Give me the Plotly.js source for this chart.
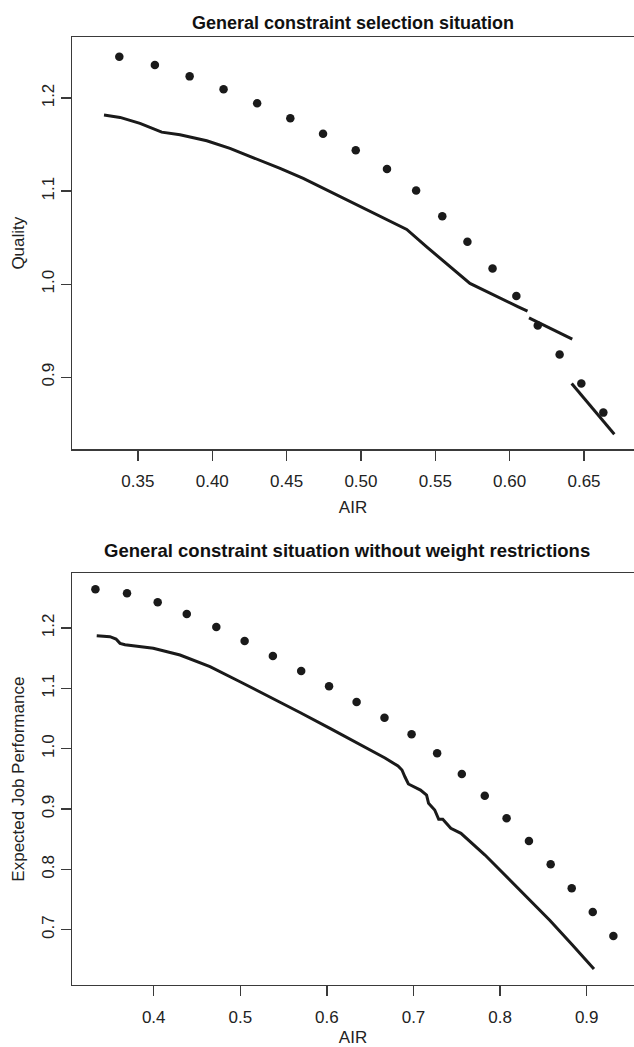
<!DOCTYPE html>
<html>
<head>
<meta charset="utf-8">
<script src="https://cdn.plot.ly/plotly-3.0.1.min.js"></script>
<style>
  html, body { margin: 0; padding: 0; background: #fff; overflow: hidden; }
  #chart { width: 634px; height: 1047px; }
</style>
</head>
<body>
<div id="chart"></div>
<script>
// Panel 1: general constraint selection situation
const topPointAIR = [0.3375, 0.3614, 0.3848, 0.4076, 0.4302, 0.4525, 0.4745, 0.4965, 0.5175,
                     0.5371, 0.5547, 0.5716, 0.5885, 0.6045, 0.6189, 0.6336, 0.6482, 0.6630];
const topPointQuality = [1.2444, 1.2355, 1.2233, 1.2094, 1.1943, 1.1782, 1.1616, 1.1438, 1.1237,
                         1.1007, 1.0731, 1.0455, 1.0169, 0.9874, 0.9556, 0.9244, 0.8932, 0.8620];

// Frontier pieces (three separate segments)
const topSegA_AIR = [0.3272, 0.3380, 0.3514, 0.3660, 0.3783, 0.3963, 0.4119, 0.4276, 0.4456,
                     0.4612, 0.4837, 0.5061, 0.5308, 0.5442, 0.5599, 0.5733, 0.6058, 0.6120];
const topSegA_Q   = [1.1817, 1.1792, 1.1728, 1.1634, 1.1605, 1.1541, 1.1459, 1.1362, 1.1244,
                     1.1137, 1.0957, 1.0777, 1.0588, 1.0401, 1.0186, 1.0008, 0.9756, 0.9710];
const topSegB_AIR = [0.6130, 0.6421];
const topSegB_Q   = [0.9638, 0.9409];
const topSegC_AIR = [0.6417, 0.6704];
const topSegC_Q   = [0.8932, 0.8387];

// Panel 2: general constraint situation without weight restrictions
const botPointAIR = [0.3327, 0.3692, 0.4046, 0.4382, 0.4723, 0.5050, 0.5376, 0.5703, 0.6025, 0.6343,
                     0.6665, 0.6978, 0.7273, 0.7558, 0.7823, 0.8075, 0.8333, 0.8584, 0.8827, 0.9070, 0.9308];
const botPointPerf = [1.2641, 1.2575, 1.2426, 1.2232, 1.2017, 1.1785, 1.1536, 1.1287, 1.1034, 1.0774,
                      1.0513, 1.0238, 0.9923, 0.9580, 0.9221, 0.8846, 0.8470, 0.8084, 0.7686, 0.7293, 0.6896];

const botLineAIR = [0.3342, 0.3495, 0.3565, 0.3611, 0.3669, 0.3995, 0.4304, 0.4650, 0.4997, 0.5343,
                    0.5689, 0.6036, 0.6383, 0.6671, 0.6821, 0.6867, 0.6902, 0.6941, 0.7081, 0.7151,
                    0.7174, 0.7245, 0.7291, 0.7338, 0.7431, 0.7548, 0.7826, 0.8114, 0.8345, 0.8576,
                    0.8830, 0.9084];
const botLinePerf = [1.1872, 1.1856, 1.1818, 1.1746, 1.1723, 1.1664, 1.1553, 1.1359, 1.1110, 1.0861,
                     1.0600, 1.0338, 1.0073, 0.9846, 0.9713, 0.9647, 0.9531, 0.9415, 0.9315, 0.9232,
                     0.9095, 0.8984, 0.8830, 0.8830, 0.8680, 0.8598, 0.8238, 0.7824, 0.7501, 0.7153,
                     0.6755, 0.6349];

const topTicks = [0.35, 0.40, 0.45, 0.50, 0.55, 0.60, 0.65];
const topTickText = ['0.35', '0.40', '0.45', '0.50', '0.55', '0.60', '0.65'];
const botTicks = [0.4, 0.5, 0.6, 0.7, 0.8, 0.9];
const botTickText = ['0.4', '0.5', '0.6', '0.7', '0.8', '0.9'];
const topYTicks = [0.9, 1.0, 1.1, 1.2];
const topYText = ['0.9', '1.0', '1.1', '1.2'];
const botYTicks = [0.7, 0.8, 0.9, 1.0, 1.1, 1.2];
const botYText = ['0.7', '0.8', '0.9', '1.0', '1.1', '1.2'];

const ink = '#1a1a1a';
const axisInk = '#3a3a3a';
const fontFamily = 'Liberation Sans, Arial, Helvetica, sans-serif';

// join segments with gaps so they are drawn as separate pieces
const topLineAIR = topSegA_AIR.concat([null], topSegB_AIR, [null], topSegC_AIR);
const topLineQ = topSegA_Q.concat([null], topSegB_Q, [null], topSegC_Q);

const traces = [
  { x: topLineAIR, y: topLineQ, type: 'scatter', mode: 'lines', connectgaps: false,
    line: { color: ink, width: 3 }, xaxis: 'x', yaxis: 'y', hoverinfo: 'skip' },
  { x: topPointAIR, y: topPointQuality, type: 'scatter', mode: 'markers',
    marker: { color: ink, size: 8.5 }, xaxis: 'x', yaxis: 'y' },
  { x: botLineAIR, y: botLinePerf, type: 'scatter', mode: 'lines',
    line: { color: ink, width: 3 }, xaxis: 'x2', yaxis: 'y2', hoverinfo: 'skip' },
  { x: botPointAIR, y: botPointPerf, type: 'scatter', mode: 'markers',
    marker: { color: ink, size: 8.5 }, xaxis: 'x2', yaxis: 'y2' }
];

function xAxis(range, vals, text, anchor) {
  return {
    range: range, domain: [0, 1], anchor: anchor,
    tickmode: 'array', tickvals: vals, ticktext: text,
    ticks: 'outside', ticklen: 10, tickwidth: 1.3, tickcolor: axisInk,
    ticklabelstandoff: 6,
    showline: true, mirror: true, linecolor: axisInk, linewidth: 1.3,
    showgrid: false, zeroline: false,
    tickfont: { family: fontFamily, size: 17, color: '#222' },
    title: { text: 'AIR', font: { family: fontFamily, size: 17, color: '#222' }, standoff: 11 }
  };
}
function yAxis(range, domain, vals, text, title, anchor) {
  return {
    range: range, domain: domain, anchor: anchor,
    tickmode: 'array', tickvals: vals, ticktext: text, tickangle: -90,
    ticks: 'outside', ticklen: 10, tickwidth: 1.3, tickcolor: axisInk,
    showline: true, mirror: false, linecolor: axisInk, linewidth: 1.3,
    showgrid: false, zeroline: false,
    tickfont: { family: fontFamily, size: 17, color: '#222' },
    title: { text: title, font: { family: fontFamily, size: 17, color: '#222' }, standoff: 10 }
  };
}

const layout = {
  width: 634, height: 1047,
  margin: { l: 72, r: 0, t: 37, b: 62 },
  paper_bgcolor: '#fff', plot_bgcolor: '#fff',
  showlegend: false,
  title: {
    text: 'General constraint selection situation',
    x: 353 / 634, xref: 'container', xanchor: 'center',
    y: 1 - 22.3 / 1047, yref: 'container', yanchor: 'middle',
    font: { family: fontFamily, size: 18, color: '#111', weight: 'bold' }
  },
  xaxis: xAxis([0.30568, 0.68362], topTicks, topTickText, 'y'),
  yaxis: yAxis([0.8226, 1.2656], [0.5651, 1], topYTicks, topYText, 'Quality', 'x'),
  xaxis2: xAxis([0.30566, 0.95462], botTicks, botTickText, 'y2'),
  yaxis2: yAxis([0.6084, 1.2907], [0, 0.4343], botYTicks, botYText, 'Expected Job Performance', 'x2'),
  annotations: [{
    text: '<b>General constraint situation without weight restrictions</b>',
    xref: 'paper', yref: 'paper', x: (347 - 72) / 562, y: 1 - (550 - 37) / 948,
    xanchor: 'center', yanchor: 'middle', showarrow: false,
    font: { family: fontFamily, size: 18.5, color: '#111' }
  }]
};

Plotly.newPlot('chart', traces, layout, { displayModeBar: false, staticPlot: true });
</script>
</body>
</html>
